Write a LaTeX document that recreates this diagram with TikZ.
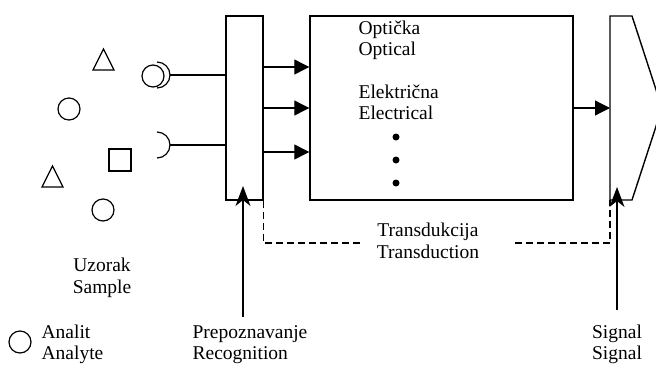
\documentclass[tikz,border=0pt]{standalone}
\usepackage{fontspec}
\setmainfont{Liberation Serif}
\usetikzlibrary{arrows.meta,positioning}
\newcommand{\lbltxt}{\fontsize{19.5}{21.5}\selectfont}

\begin{document}
\begin{tikzpicture}[x=1pt,y=-1pt,line width=1.2pt,
  box/.style={draw,rectangle,inner sep=0pt,line width=1.4pt},
  txt/.style={inner sep=0pt,font=\lbltxt,align=center},
  ltxt/.style={inner sep=0pt,font=\lbltxt,align=left},
  tip/.style={-{Triangle[length=15pt,width=15pt]}},
  uptip/.style={-{Stealth[length=20pt,width=15pt,inset=6pt]}},
  dashline/.style={dash pattern=on 7pt off 4pt,line width=1.1pt},
  dot/.style={circle,fill,inner sep=0pt,minimum size=7pt}]
\clip (0,0) rectangle (656,365);
% sample particles
\draw (93,70)--(114,70)--(103.5,49)--cycle;
\draw (69,109) circle (11);
\draw (109,149) rectangle (131,171);
\draw (42,187)--(63,187)--(52.5,166)--cycle;
\draw (103,210) circle (11);
\draw (153,76) circle (11);
% receptors
\coordinate (cupA) at (170,75);\coordinate (cupB) at (170,145);
\draw ([shift={(-13,-13)}]cupA) arc[start angle=-90,end angle=90,radius=13];
\draw ([shift={(-13,-13)}]cupB) arc[start angle=-90,end angle=90,radius=13];
% blocks
\node[box,minimum width=37pt,minimum height=184pt] (rec) at (244.5,108) {};
\node[box,minimum width=263pt,minimum height=184pt] (trans) at (441.5,108) {};
\coordinate (sigL) at (610,108);
\draw[line width=1.4pt] (610,16)--(632,16)--(662,108)--(632,200)--(610,200)--cycle;
\draw (cupA) -- (rec.west |- cupA);
\draw (cupB) -- (rec.west |- cupB);
\foreach \yy in {67,108,152}
  \draw[tip] (rec.east |- 0,\yy) -- (trans.west |- 0,\yy);
\draw[tip] (trans.east |- sigL) -- (sigL);
% labels (anchored at the baseline of the second line)
\node[ltxt,anchor=base west] (opt) at (358,55.5) {Optička\\Optical};
\node[ltxt,anchor=base west] (ele) at (358,119.5) {Električna\\Electrical};
\foreach \yy [count=\i] in {137,160,183}
  \node[dot] (d\i) at (396,\yy) {};
\node[txt,anchor=base] (smp) at (102,293) {Uzorak\\Sample};
\node[draw,circle,inner sep=0pt,minimum size=22pt] (leg) at (20,342) {};
\node[ltxt,anchor=base west] (ana) at (41,359.5) {Analit\\Analyte};
\node[ltxt,anchor=base west] (recl) at (192,359.5) {Prepoznavanje\\Recognition};
\node[txt,anchor=base] (sigl) at (617,359.5) {Signal\\Signal};
\node[txt,anchor=base] (tdl) at (428,258) {Transdukcija\\Transduction};
% arrows and transduction path
\draw[uptip] (243,317) -- (243,186);
\draw[uptip] (617,310) -- (617,187);
\draw[dashline] (rec.south east) |- (360,243);
\draw[dashline] (515,243) -| (610,200);
\end{tikzpicture}
\end{document}
